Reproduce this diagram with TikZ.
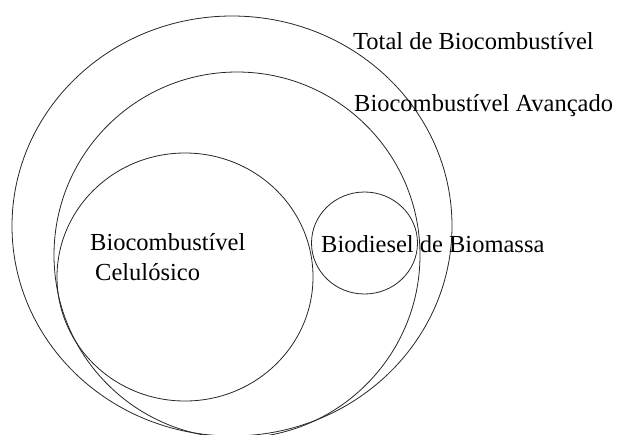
\documentclass[tikz,border=0pt]{standalone}
\usepackage{fontspec}
\setmainfont{Liberation Serif}

\tikzset{
  ring/.style={draw=black!85, line width=0.8pt},
  lbl/.style={anchor=base west, inner sep=0pt, font=\fontsize{24.5}{30}\selectfont}
}

\begin{document}
\begin{tikzpicture}[x=1pt, y=-1pt]

    \useasboundingbox (0,0) rectangle (617,434);
    \clip (0,0) rectangle (617,434);

    % circles
    \draw [ring] (232,226) ellipse [x radius=220, y radius=210];
    \draw [ring] (237,255) ellipse [x radius=183, y radius=183];
    \draw [ring] (185,277) ellipse [x radius=128, y radius=124];
    \draw [ring] (364.5,243) ellipse [x radius=53, y radius=51];

    % labels
    \node (total) [lbl] at (353,49) {Total de Biocombustível};
    \node (avanc) [lbl] at (354,111) {Biocombustível Avançado};
    \node (celul) [lbl] at (90,250) {Biocombustível};
    \node (celul2) [lbl] at (95,280) {Celulósico};
    \node (biodsl) [lbl] at (321,252) {Biodiesel de Biomassa};

\end{tikzpicture}
\end{document}
